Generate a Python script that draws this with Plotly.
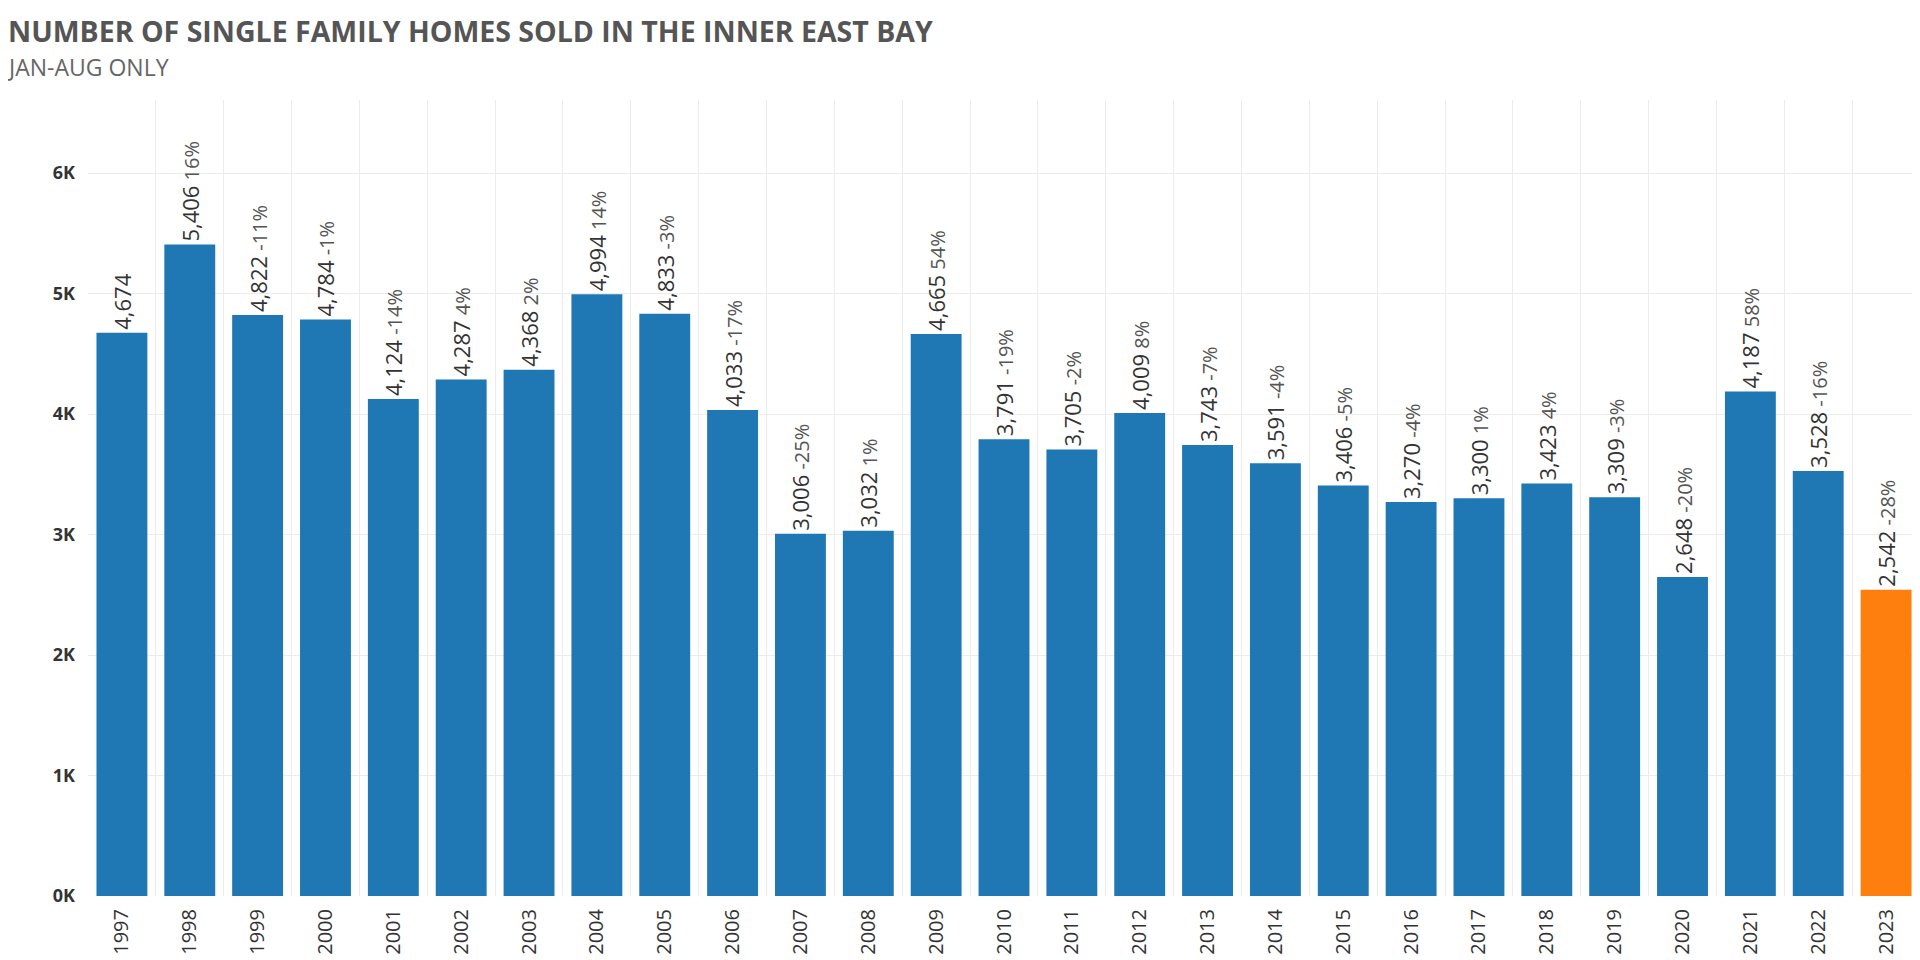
import plotly.graph_objects as go

years = [str(y) for y in range(1997, 2024)]
homes_sold = [4674, 5406, 4822, 4784, 4124, 4287, 4368, 4994, 4833, 4033,
              3006, 3032, 4665, 3791, 3705, 4009, 3743, 3591, 3406, 3270,
              3300, 3423, 3309, 2648, 4187, 3528, 2542]
pct_change = ["", "16%", "-11%", "-1%", "-14%", "4%", "2%", "14%", "-3%", "-17%",
              "-25%", "1%", "54%", "-19%", "-2%", "8%", "-7%", "-4%", "-5%", "-4%",
              "1%", "4%", "-3%", "-20%", "58%", "-16%", "-28%"]
y_tick_vals = [0, 1000, 2000, 3000, 4000, 5000, 6000]
y_tick_text = ["0K", "1K", "2K", "3K", "4K", "5K", "6K"]
highlight_year = "2023"

BLUE = "#1f77b4"
ORANGE = "#ff7f0e"
FONT = "Open Sans"

W, H = 1912, 952          # page body has an 8px margin
ML, MR, MT, MB = 80, 0, 92, 64
PW = W - ML - MR
PH = H - MT - MB

colors = [ORANGE if y == highlight_year else BLUE for y in years]
labels = []
for v, p in zip(homes_sold, pct_change):
    t = f"{v:,}"
    if p:
        t += f"<span style='font-size:20px;fill:#555555'> {p}</span>"
    labels.append(t)

fig = go.Figure(go.Bar(
    x=years, y=homes_sold,
    marker=dict(color=colors, line=dict(width=0)),
    text=labels, textposition="outside", textangle=-90,
    outsidetextfont=dict(family=FONT, size=22, color="#333333"),
    constraintext="none", cliponaxis=False,
    hoverinfo="x+y",
))

fig.update_layout(
    width=W, height=H,
    paper_bgcolor="white", plot_bgcolor="white",
    margin=dict(l=ML, r=MR, t=MT, b=MB, autoexpand=False),
    bargap=0.25,
    showlegend=False,
    font=dict(family=FONT, color="#333333"),
    title=dict(
        text="NUMBER OF SINGLE FAMILY HOMES SOLD IN THE INNER EAST BAY",
        font=dict(family=FONT, size=28.5, color="#555555", weight="bold"),
        xref="container", yref="container",
        x=0, xanchor="left",
        y=1 - 24 / H, yanchor="middle",
        pad=dict(l=0, r=0, t=0, b=0),
    ),
    annotations=[dict(
        text="JAN-AUG ONLY",
        xref="paper", yref="paper",
        x=(-3 - ML) / PW, xanchor="left",
        y=(MT + PH - 59) / PH, yanchor="middle",
        showarrow=False,
        font=dict(family=FONT, size=23, color="#666666"),
    )],
    xaxis=dict(
        type="category",
        tickangle=-90,
        tickfont=dict(family=FONT, size=20, color="#333333"),
        showgrid=True, gridcolor="#ececec", gridwidth=1,
        tickson="boundaries",
        ticks="", ticklabelstandoff=8,
        showline=False, zeroline=False,
    ),
    yaxis=dict(
        range=[0, 6606],
        tickvals=y_tick_vals, ticktext=y_tick_text,
        tickfont=dict(family=FONT, size=18, color="#333333", weight="bold"),
        showgrid=True, gridcolor="#ececec", gridwidth=1,
        zeroline=False, showline=False,
        ticks="", ticklabelstandoff=12,
    ),
)

fig.write_html("out.html")
